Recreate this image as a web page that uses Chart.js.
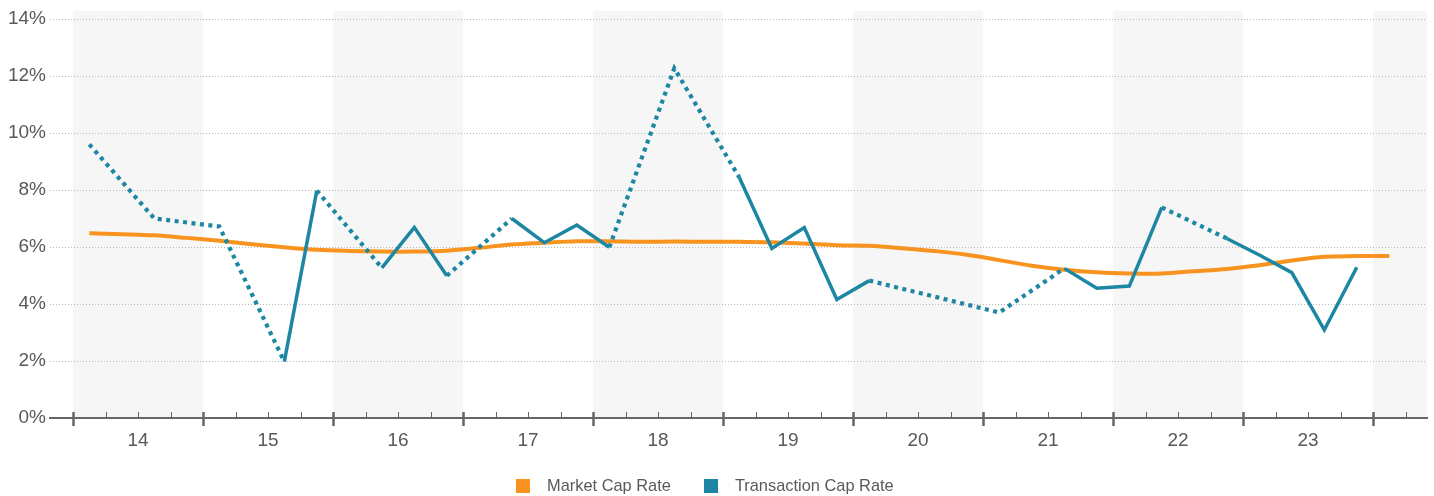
<!DOCTYPE html>
<html>
<head>
<meta charset="utf-8">
<script src="https://cdn.jsdelivr.net/npm/chart.js@4"></script>
<style>
  html, body { margin: 0; padding: 0; background: #fff; overflow: hidden; }
  .wrap { position: relative; width: 1434px; height: 496px; }
  .legend { position: absolute; left: 516px; top: 476px; display: flex;
    font: 16.4px "Liberation Sans", Arial, sans-serif; color: #595959; white-space: nowrap; }
  .legend span { display: inline-flex; align-items: center; margin-right: 33px; }
  .legend i { display: inline-block; width: 14px; height: 14px; margin-right: 17px; }
</style>
</head>
<body>
<div class="wrap">
  <canvas id="c"></canvas>
  <div class="legend" id="legend"></div>
</div>
<script>
// Market vs transaction cap rates, quarterly 2014 Q1 - 2024 Q1
const quarters = [
  '14Q1','14Q2','14Q3','14Q4','15Q1','15Q2','15Q3','15Q4','16Q1','16Q2','16Q3','16Q4',
  '17Q1','17Q2','17Q3','17Q4','18Q1','18Q2','18Q3','18Q4','19Q1','19Q2','19Q3','19Q4',
  '20Q1','20Q2','20Q3','20Q4','21Q1','21Q2','21Q3','21Q4','22Q1','22Q2','22Q3','22Q4',
  '23Q1','23Q2','23Q3','23Q4','24Q1'
];
const yearLabels = ['14', '15', '16', '17', '18', '19', '20', '21', '22', '23'];

const marketCapRate = [
  6.48, 6.45, 6.41, 6.32, 6.22, 6.10, 5.99, 5.90, 5.86, 5.84, 5.84, 5.87,
  5.97, 6.09, 6.15, 6.20, 6.20, 6.18, 6.19, 6.18, 6.18, 6.17, 6.12, 6.06,
  6.04, 5.96, 5.86, 5.73, 5.54, 5.34, 5.20, 5.11, 5.07, 5.07, 5.15, 5.23,
  5.36, 5.53, 5.66, 5.68, 5.68
];
// null = no transactions that quarter (drawn dotted across the gap)
const transactionCapRate = [
  9.60, null, 7.00, null, 6.72, null, 1.98, 7.98, null, 5.27, 6.69, 4.99,
  null, 7.00, 6.15, 6.77, 5.99, null, 12.27, null, 8.44, 5.95, 6.68, 4.16,
  4.82, null, null, null, 3.70, null, 5.25, 4.55, 4.63, 7.39, null, 6.30,
  5.72, 5.10, 3.09, 5.29, null
];
const yTicks = [0, 2, 4, 6, 8, 10, 12, 14];

const ORANGE = '#f7931e';
const TEAL = '#1d87a3';
const X_MIN = -1.21, X_MAX = 41.16;
const FONT = '"Liberation Sans", Arial, sans-serif';

function toPoints(values) {
  return values.map(function (v, i) { return { x: i, y: v }; });
}

// shaded alternate years + quarterly tick marks on the x axis
const yearBands = {
  id: 'yearBands',
  beforeDraw: function (chart) {
    const a = chart.chartArea, x = chart.scales.x, ctx = chart.ctx;
    ctx.save();
    ctx.fillStyle = '#f6f6f6';
    for (let k = 0; k * 4 - 0.5 < X_MAX; k += 2) {
      const l = Math.max(x.getPixelForValue(k * 4 - 0.5), a.left);
      const r = Math.min(x.getPixelForValue(k * 4 + 3.5), a.right);
      ctx.fillRect(l, a.top - 8, r - l, a.bottom - a.top + 8);
    }
    ctx.restore();
  },
  afterDraw: function (chart) {
    const a = chart.chartArea, x = chart.scales.x, ctx = chart.ctx;
    ctx.save();
    ctx.strokeStyle = '#666';
    for (let q = -0.5; q <= X_MAX; q += 1) {
      const px = Math.round(x.getPixelForValue(q)) + 0.5;
      const major = Math.round(q + 0.5) % 4 === 0;
      ctx.lineWidth = major ? 2.5 : 1;
      ctx.beginPath();
      ctx.moveTo(px, a.bottom - 6);
      ctx.lineTo(px, major ? a.bottom + 8 : a.bottom);
      ctx.stroke();
    }
    ctx.restore();
  }
};

const inGap = function (ctx) { return ctx.p0.skip || ctx.p1.skip; };

const chart = new Chart(document.getElementById('c'), {
  type: 'line',
  data: {
    datasets: [
      {
        label: 'Market Cap Rate',
        data: toPoints(marketCapRate),
        borderColor: ORANGE,
        backgroundColor: ORANGE,
        borderWidth: 4,
        tension: 0.35,
        pointRadius: 0,
        order: 1
      },
      {
        label: 'Transaction Cap Rate',
        data: toPoints(transactionCapRate),
        borderColor: TEAL,
        backgroundColor: TEAL,
        borderWidth: 3.5,
        borderJoinStyle: 'miter',
        borderCapStyle: 'butt',
        tension: 0,
        pointRadius: 0,
        spanGaps: true,
        segment: {
          borderDash: function (ctx) { return inGap(ctx) ? [4, 4.5] : undefined; },
          borderWidth: function (ctx) { return inGap(ctx) ? 4.2 : undefined; }
        },
        order: 0
      }
    ]
  },
  options: {
    responsive: true,
    maintainAspectRatio: false,
    animation: false,
    layout: { padding: { top: 19, right: 7, left: 0, bottom: 0 } },
    plugins: {
      legend: { display: false },
      tooltip: { enabled: false }
    },
    scales: {
      x: {
        type: 'linear',
        min: X_MIN,
        max: X_MAX,
        afterBuildTicks: function (scale) {
          scale.ticks = yearLabels.map(function (l, k) { return { value: k * 4 + 1.5 }; });
        },
        afterFit: function (scale) { scale.height = 78; },
        ticks: {
          autoSkip: false,
          maxRotation: 0,
          padding: 11,
          color: '#595959',
          font: { family: FONT, size: 19 },
          callback: function (v, i) { return yearLabels[i]; }
        },
        grid: { drawOnChartArea: false, drawTicks: false, color: 'rgba(0,0,0,0)' },
        border: { display: true, color: '#666', width: 2 }
      },
      y: {
        min: 0,
        max: 14,
        afterBuildTicks: function (scale) {
          scale.ticks = yTicks.map(function (v) { return { value: v }; });
        },
        afterFit: function (scale) { scale.width = 50; },
        ticks: {
          padding: 4,
          color: '#595959',
          font: { family: FONT, size: 19 },
          callback: function (v) { return v + '%'; }
        },
        grid: { drawTicks: false, color: '#b8b8b8', lineWidth: 1 },
        border: { display: false, dash: [1, 2] }
      }
    }
  },
  plugins: [yearBands]
});

// HTML legend
const legend = document.getElementById('legend');
chart.data.datasets.forEach(function (ds) {
  const s = document.createElement('span');
  s.innerHTML = '<i style="background:' + ds.borderColor + '"></i>' + ds.label;
  legend.appendChild(s);
});
</script>
</body>
</html>
